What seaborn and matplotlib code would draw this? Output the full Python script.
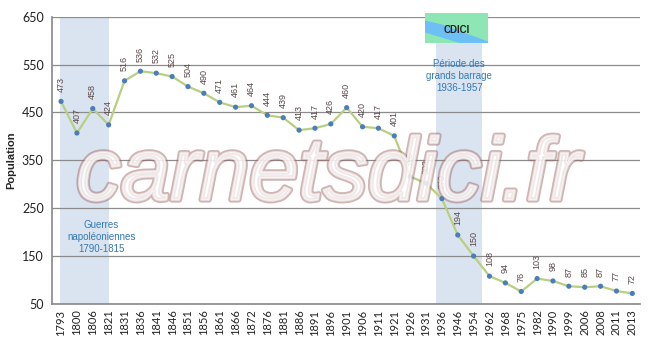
import matplotlib
matplotlib.use("Agg")
import matplotlib.pyplot as plt
import matplotlib.patheffects as pe
from matplotlib.patches import Rectangle, Polygon
import seaborn as sns
import pandas as pd

years = ["1793", "1800", "1806", "1821", "1831", "1836", "1841", "1846", "1851", "1856",
         "1861", "1866", "1872", "1876", "1881", "1886", "1891", "1896", "1901", "1906",
         "1911", "1921", "1926", "1931", "1936", "1946", "1954", "1962", "1968", "1975",
         "1982", "1990", "1999", "2006", "2008", "2011", "2013"]
population = [473, 407, 458, 424, 516, 536, 532, 525, 504, 490,
              471, 461, 464, 444, 439, 413, 417, 426, 460, 420,
              417, 401, 316, 302, 270, 194, 150, 108, 94, 76,
              103, 98, 87, 85, 87, 77, 72]
y_ticks = [50, 150, 250, 350, 450, 550, 650]

sns.set_theme(style="white")
plt.rcParams['font.family'] = ['Liberation Sans', 'DejaVu Sans']

df = pd.DataFrame({"year": years, "pop": population})

fig = plt.figure(figsize=(6.5, 3.4), dpi=100)
ax = fig.add_axes([0.08, 0.106, 0.905, 0.845])

# shaded periods (category index ranges)
ax.axvspan(-0.05, 3.0, color="#dae4f0", zorder=0, lw=0)
ax.axvspan(23.6, 26.55, ymax=0.91, color="#dae4f0", zorder=0, lw=0)

for t in y_ticks:
    ax.axhline(t, color="#8c8c8c", lw=0.9, zorder=1)

sns.lineplot(data=df, x="year", y="pop", sort=False, color="#b9cf80", lw=1.6, ax=ax, zorder=3)
sns.scatterplot(data=df, x="year", y="pop", color="#4a7ebb", s=14, edgecolor="none", ax=ax, zorder=4)

for i, v in enumerate(population):
    ax.annotate(str(v), (i, v), xytext=(0, 7), textcoords="offset points",
                rotation=90, ha="center", va="bottom", fontsize=6.5, color="#5a4848", zorder=5)

ax.set_xlim(-0.57, 36.5)
ax.set_ylim(50, 650)
ax.set_yticks(y_ticks)
ax.set_yticklabels([str(t) for t in y_ticks], fontsize=9, family=['Lato', 'DejaVu Sans'], color="#222222")
ax.tick_params(axis="x", rotation=90, labelsize=8, pad=4, length=0, colors="#222222")
ax.tick_params(axis="y", length=0, pad=6)
for lab in ax.get_xticklabels():
    lab.set_family(['Lato', 'DejaVu Sans'])
ax.set_xlabel("")
ax.set_ylabel("Population", fontsize=8, fontweight="bold", labelpad=4)
for s in ["top", "right"]:
    ax.spines[s].set_visible(False)
ax.spines["left"].set_color("#8c8c8c")
ax.spines["bottom"].set_color("#8c8c8c")

ax.text(2.55, 190, "Guerres\nnapoléoniennes\n1790-1815", ha="center", va="center",
        fontsize=7, color="#3479b5", linespacing=1.25, zorder=6)
ax.text(25.1, 526, "Période des\ngrands barrage\n1936-1957", ha="center", va="center",
        fontsize=7, color="#3479b5", linespacing=1.25, zorder=6)

# watermark
fig.text(0.505, 0.48, "carnetsdici.fr", ha="center", va="center", fontsize=64,
         style="italic", family=['Liberation Sans', 'DejaVu Sans'],
         color="white", alpha=0.25, zorder=10,
         path_effects=[pe.Stroke(linewidth=4, foreground="#a06a6a", alpha=0.5),
                       pe.Stroke(linewidth=1.5, foreground="white", alpha=0.6),
                       pe.Normal()])

# small logo box
lx, ly, lw_, lh = 425 / 650, 1 - 43 / 340, 63 / 650, 30 / 340
fig.patches.append(Rectangle((lx, ly), lw_, lh, transform=fig.transFigure, facecolor="#8ee6b4", edgecolor="none", zorder=6))
fig.patches.append(Polygon([(lx, ly + lh * 0.75), (lx + lw_ * 0.3, ly + lh * 0.6), (lx + lw_, ly + lh * 0.05),
                            (lx + lw_, ly), (lx + lw_ * 0.55, ly), (lx, ly + lh * 0.35)],
                           closed=True, transform=fig.transFigure, facecolor="#6cc0f4", edgecolor="none", zorder=7))
fig.text(lx + lw_ / 2, ly + lh * 0.42, "CDICI", ha="center", va="center", fontsize=7,
         fontweight="bold", color="#222222", zorder=8)

fig.savefig("out.png", dpi=100)
